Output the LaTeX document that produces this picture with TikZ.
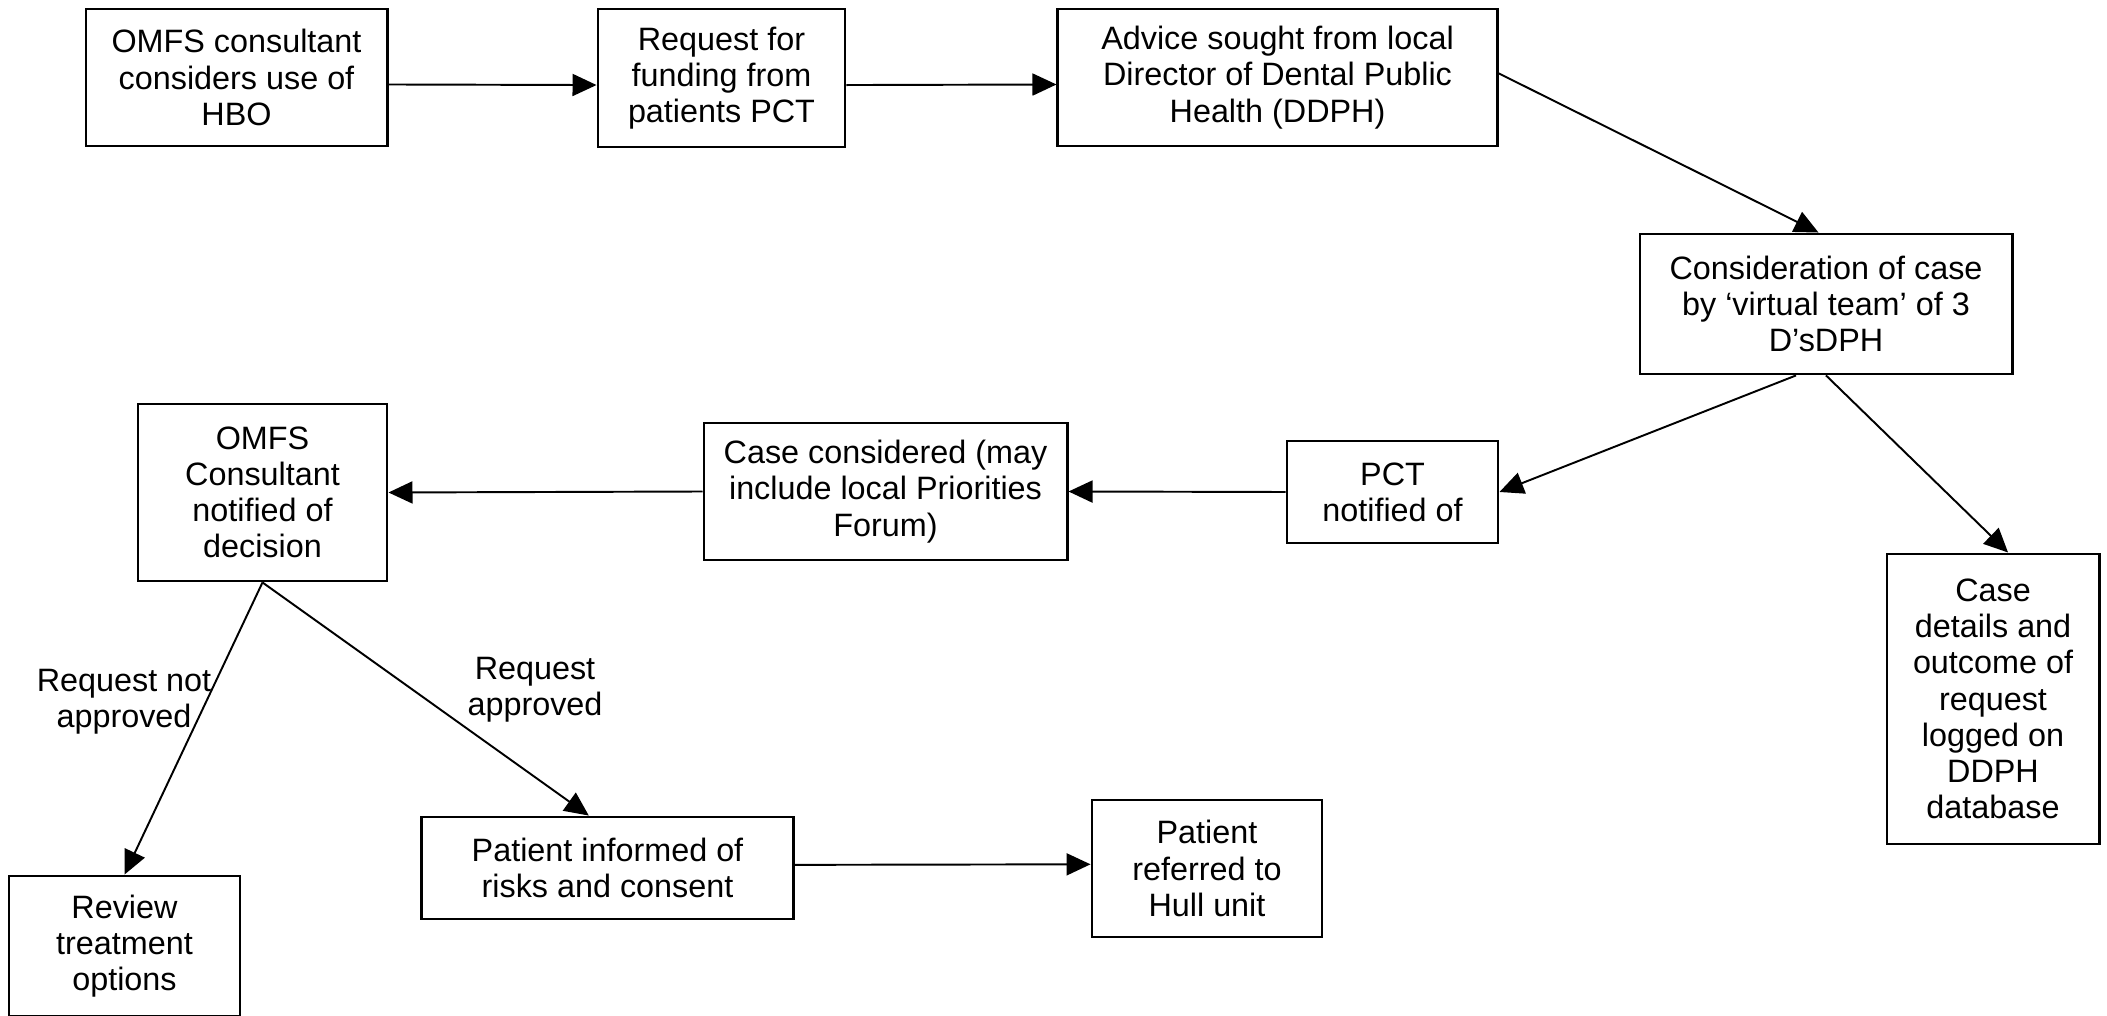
\documentclass[tikz,border=0pt]{standalone}
\usepackage{fontspec}
\setmainfont{Liberation Sans}
\usetikzlibrary{calc,arrows.meta}

\begin{document}
\begin{tikzpicture}[
    x=0.01cm, y=-0.01cm,
    >={Triangle[length=2.4mm, width=2.2mm]},
    box/.style={draw, line width=0.8pt, align=center, inner sep=2pt,
      font=\fontsize{9.2}{10.3}\selectfont},
    lbl/.style={align=center, font=\fontsize{9.2}{10.3}\selectfont},
    link/.style={->, line width=0.55pt},
  ]
  \useasboundingbox (0,0) rectangle (2107,1016);

  % Top row
  \node[box, minimum width=3.01cm, minimum height=1.37cm] (omfs) at (236.5,77.5)
    {OMFS consultant\\considers use of\\HBO};
  \node[box, minimum width=2.47cm, minimum height=1.38cm] (funding) at (721.5,78)
    {Request for\\funding from\\patients PCT};
  \node[box, minimum width=4.39cm, minimum height=1.37cm] (advice) at (1277.5,77.5)
    {Advice sought from local\\Director of Dental Public\\Health (DDPH)};

  % Right column
  \node[box, minimum width=3.72cm, minimum height=1.40cm] (team) at (1826,304)
    {Consideration of case\\by `virtual team' of 3\\D'sDPH};
  \node[box, minimum width=2.12cm, minimum height=2.90cm] (logged) at (1993,699)
    {Case\\details and\\outcome of\\request\\logged on\\DDPH\\database};

  % Middle row
  \node[box, minimum width=2.11cm, minimum height=1.02cm] (pct) at (1392.5,492)
    {PCT\\notified of};
  \node[box, minimum width=3.63cm, minimum height=1.37cm] (forum) at (885.5,491.5)
    {Case considered (may\\include local Priorities\\Forum)};
  \node[box, minimum width=2.49cm, minimum height=1.77cm] (notified) at (262.5,492.5)
    {OMFS\\Consultant\\notified of\\decision};

  % Bottom row
  \node[box, minimum width=2.31cm, minimum height=1.40cm] (review) at (124.5,946)
    {Review\\treatment\\options};
  \node[box, minimum width=3.71cm, minimum height=1.02cm] (consent) at (607.5,868)
    {Patient informed of\\risks and consent};
  \node[box, minimum width=2.30cm, minimum height=1.37cm] (hull) at (1207,868.5)
    {Patient\\referred to\\Hull unit};

  % Decision labels
  \node[lbl] (notapproved) at (124,702) {Request not\\approved};
  \node[lbl] (approved) at (535,690) {Request\\approved};

  % Connectors
  \draw[link] ($(omfs.north east)!0.55!(omfs.south east)$)
    -- ($(funding.north west)!0.55!(funding.south west)$);
  \draw[link] ($(funding.north east)!0.55!(funding.south east)$)
    -- ($(advice.north west)!0.55!(advice.south west)$);
  \draw[link] ($(advice.north east)!0.47!(advice.south east)$)
    -- ($(team.north west)!0.48!(team.north east)$);
  \draw[link] ($(team.south west)!0.42!(team.south east)$) -- (pct.east);
  \draw[link] (team.south) -- ($(logged.north west)!0.57!(logged.north east)$);
  \draw[link] (pct.west) -- (forum.east);
  \draw[link] (forum.west) -- (notified.east);
  \draw[link] (notified.south) -- (review.north);
  \draw[link] (notified.south) -- ($(consent.north west)!0.45!(consent.north east)$);
  \draw[link] ($(consent.north east)!0.47!(consent.south east)$)
    -- ($(hull.north west)!0.47!(hull.south west)$);
\end{tikzpicture}
\end{document}
